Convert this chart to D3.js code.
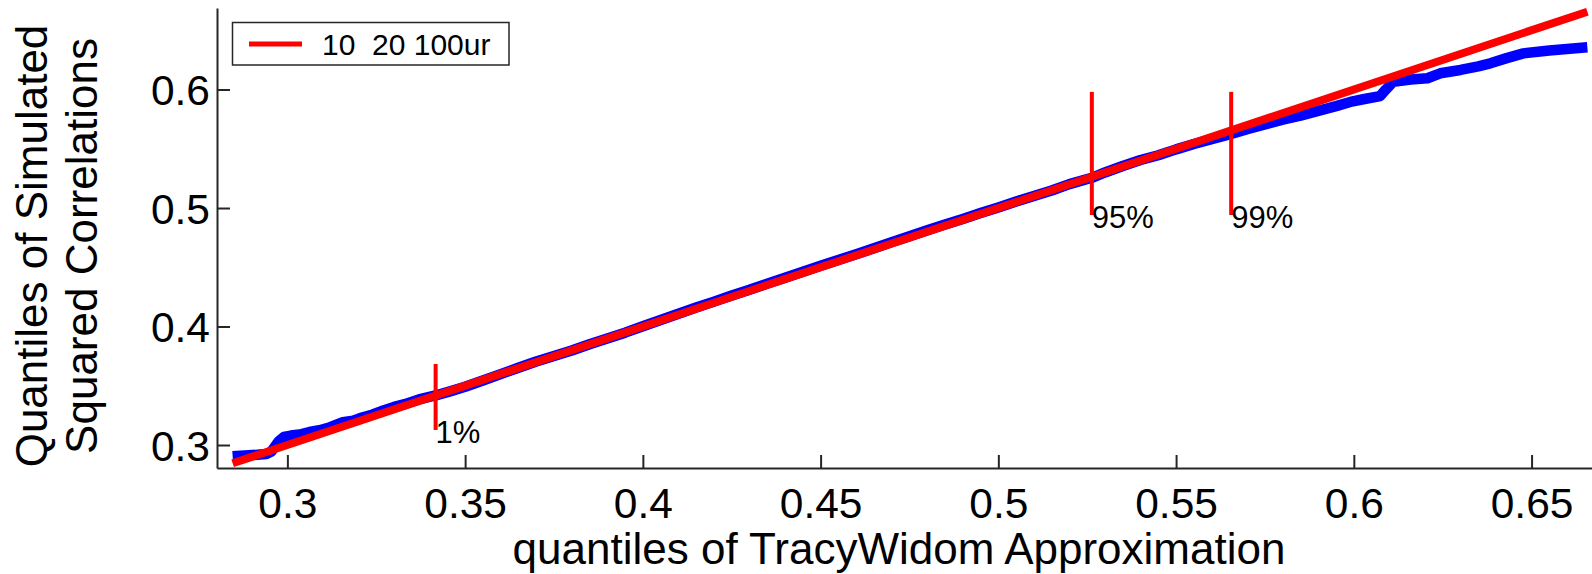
<!DOCTYPE html>
<html>
<head>
<meta charset="utf-8">
<script src="https://cdn.jsdelivr.net/npm/d3@7"></script>
<style>
  html, body { margin: 0; padding: 0; background: #fff; overflow: hidden; }
  svg { display: block; font-family: "Liberation Sans", Arial, Helvetica, sans-serif; }
</style>
</head>
<body>
<svg id="chart" width="1592" height="574"></svg>
<script>
// quantiles of TracyWidom approximation (x) vs simulated squared correlations (y)
const twQuantiles = [
  0.2846, 0.2880, 0.2915, 0.2941, 0.2955, 0.2975, 0.2990, 0.3010, 0.3040, 0.3062,
  0.3090, 0.3120, 0.3156, 0.3185, 0.3210, 0.3240, 0.3270, 0.3300, 0.3330, 0.3370,
  0.3417, 0.3460, 0.3500, 0.3550, 0.3600, 0.3650, 0.3700, 0.3750, 0.3800, 0.3850,
  0.3900, 0.3950, 0.4000, 0.4050, 0.4100, 0.4150, 0.4200, 0.4250, 0.4300, 0.4350,
  0.4400, 0.4450, 0.4500, 0.4550, 0.4600, 0.4650, 0.4700, 0.4750, 0.4800, 0.4850,
  0.4900, 0.4950, 0.5000, 0.5050, 0.5100, 0.5150, 0.5200, 0.5263, 0.5300, 0.5350,
  0.5400, 0.5450, 0.5500, 0.5550, 0.5600, 0.5655, 0.5700, 0.5750, 0.5800, 0.5850,
  0.5900, 0.5950, 0.5990, 0.6030, 0.6074, 0.6090, 0.6111, 0.6160, 0.6207, 0.6243,
  0.6300, 0.6350, 0.6384, 0.6430, 0.6477, 0.6550, 0.6657
];
const simQuantiles = [
  0.2905, 0.2912, 0.2918, 0.2925, 0.2945, 0.3030, 0.3068, 0.3080, 0.3092, 0.3110,
  0.3125, 0.3150, 0.3192, 0.3205, 0.3232, 0.3258, 0.3292, 0.3322, 0.3345, 0.3385,
  0.3418, 0.3455, 0.3492, 0.3545, 0.3598, 0.3652, 0.3705, 0.3752, 0.3798, 0.3850,
  0.3898, 0.3948, 0.4002, 0.4055, 0.4108, 0.4160, 0.4210, 0.4262, 0.4310, 0.4362,
  0.4412, 0.4462, 0.4512, 0.4562, 0.4610, 0.4660, 0.4712, 0.4762, 0.4812, 0.4860,
  0.4908, 0.4958, 0.5005, 0.5055, 0.5102, 0.5148, 0.5202, 0.5255, 0.5300, 0.5355,
  0.5405, 0.5445, 0.5495, 0.5540, 0.5580, 0.5625, 0.5665, 0.5705, 0.5745, 0.5780,
  0.5820, 0.5860, 0.5895, 0.5920, 0.5945, 0.6000, 0.6066, 0.6085, 0.6095, 0.6137,
  0.6165, 0.6195, 0.6221, 0.6265, 0.6305, 0.6330, 0.6356
];
// y = x reference line end points
const refEnds = [0.2846, 0.6657];

// percentile markers
const pctLabels = ["1%", "95%", "99%"];
const pctX = [0.3417, 0.5263, 0.5655];
const pctLo = [0.3127, 0.4941, 0.4941];
const pctHi = [0.3684, 0.5980, 0.5980];

const xTicks = [0.3, 0.35, 0.4, 0.45, 0.5, 0.55, 0.6, 0.65];
const yTicks = [0.3, 0.4, 0.5, 0.6];
const legendText = "10  20 100ur";
const xTitle = "quantiles of TracyWidom Approximation";
const yTitle = ["Quantiles of Simulated", "Squared Correlations"];

const svg = d3.select("#chart");
const plotL = 217, plotR = 1592, plotT = 8, plotB = 468;

const x = d3.scaleLinear().domain([0.2802, 0.667]).range([plotL, plotR]);
const y = d3.scaleLinear().domain([0.2806, 0.6688]).range([plotB, plotT]);

// axes, ticks pointing inward
const xAxis = svg.append("g")
  .attr("transform", `translate(0,${plotB})`)
  .call(d3.axisBottom(x).tickValues(xTicks).tickFormat(d3.format("")).tickSizeInner(-13).tickSizeOuter(0).tickPadding(20));
const yAxis = svg.append("g")
  .attr("transform", `translate(${plotL},0)`)
  .call(d3.axisLeft(y).tickValues(yTicks).tickFormat(d3.format("")).tickSizeInner(-13).tickSizeOuter(0).tickPadding(7));

[xAxis, yAxis].forEach(g => {
  g.select(".domain").attr("stroke", "#262626").attr("stroke-width", 2);
  g.selectAll(".tick line").attr("stroke", "#262626").attr("stroke-width", 2);
  g.selectAll(".tick text").attr("fill", "#000").style("font-size", "42.5px")
    .style("font-family", "'Liberation Sans', Arial, sans-serif");
});
yAxis.selectAll(".tick text").attr("dy", "0.36em");

// simulated quantiles (blue)
const pts = twQuantiles.map((d, i) => [d, simQuantiles[i]]);
svg.append("path")
  .datum(pts)
  .attr("fill", "none")
  .attr("stroke", "#0000ff")
  .attr("stroke-width", 10.5)
  .attr("stroke-linejoin", "round")
  .attr("d", d3.line().x(d => x(d[0])).y(d => y(d[1])));

// reference line (red)
svg.append("path")
  .datum(refEnds.map(d => [d, d]))
  .attr("fill", "none")
  .attr("stroke", "#ff0000")
  .attr("stroke-width", 8)
  .attr("d", d3.line().x(d => x(d[0])).y(d => y(d[1])));

// percentile markers
pctX.forEach((q, i) => {
  svg.append("line")
    .attr("x1", x(q)).attr("x2", x(q))
    .attr("y1", y(pctLo[i])).attr("y2", y(pctHi[i]))
    .attr("stroke", "#ff0000").attr("stroke-width", 4);
  svg.append("text")
    .attr("x", x(q))
    .attr("y", y(pctLo[i]) + 13)
    .attr("font-size", 31)
    .attr("fill", "#000")
    .text(pctLabels[i]);
});

// legend
const lg = svg.append("g");
lg.append("rect")
  .attr("x", 232.5).attr("y", 22.5).attr("width", 276.5).attr("height", 42.5)
  .attr("fill", "#fff").attr("stroke", "#262626").attr("stroke-width", 1.5);
lg.append("line")
  .attr("x1", 249).attr("x2", 302).attr("y1", 44).attr("y2", 44)
  .attr("stroke", "#ff0000").attr("stroke-width", 5);
lg.append("text")
  .attr("x", 322).attr("y", 55)
  .attr("font-size", 30)
  .attr("fill", "#000")
  .style("white-space", "pre")
  .attr("xml:space", "preserve")
  .text(legendText);

// axis titles
svg.append("text")
  .attr("x", 899).attr("y", 564)
  .attr("text-anchor", "middle")
  .attr("font-size", 44)
  .attr("fill", "#000")
  .text(xTitle);

yTitle.forEach((t, i) => {
  svg.append("text")
    .attr("transform", `translate(${46.5 + i * 50},246) rotate(-90)`)
    .attr("text-anchor", "middle")
    .attr("font-size", 44)
    .attr("fill", "#000")
    .text(t);
});
</script>
</body>
</html>
